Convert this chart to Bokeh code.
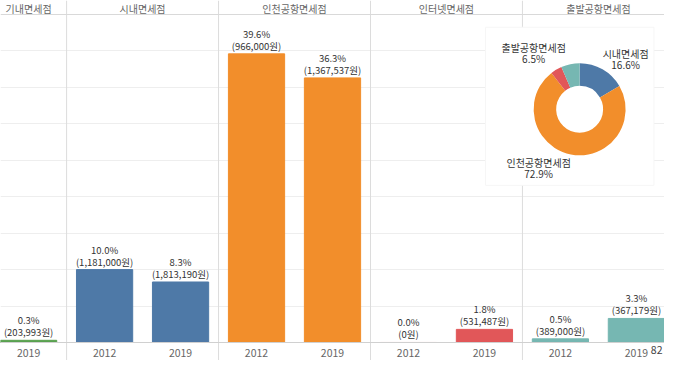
import math
from bokeh.plotting import figure
from bokeh.models import ColumnDataSource, Range1d, FixedTicker, Span
from bokeh.core.properties import value
from bokeh.embed import file_html
from bokeh.resources import INLINE

# ---------------- data ----------------
stores = ["기내면세점", "시내면세점", "인천공항면세점", "인터넷면세점", "출발공항면세점"]
store_colors = ["#59a14f", "#4e79a7", "#f28e2b", "#e15759", "#76b7b2"]
years = ["2012", "2019"]

bar_store = ["기내면세점", "시내면세점", "시내면세점", "인천공항면세점", "인천공항면세점",
             "인터넷면세점", "인터넷면세점", "출발공항면세점", "출발공항면세점"]
bar_year = ["2019", "2012", "2019", "2012", "2019", "2012", "2019", "2012", "2019"]
bar_share = [0.3, 10.0, 8.3, 39.6, 36.3, 0.0, 1.8, 0.5, 3.3]
bar_amount = [203993, 1181000, 1813190, 966000, 1367537, 0, 531487, 389000, 367179]

pie_store = ["시내면세점", "인천공항면세점", "인터넷면세점", "출발공항면세점"]
pie_share = [16.6, 72.9, 4.0, 6.5]
pie_label_shown = [True, True, False, True]

FONT = "Noto Sans CJK KR"

# ---------------- derived ----------------
bar_x = [2 * stores.index(s) + 0.5 + years.index(y) for s, y in zip(bar_store, bar_year)]
bar_color = [store_colors[stores.index(s)] for s in bar_store]
pct_text = [f"{v:.1f}%" for v in bar_share]
amt_text = [f"({a:,}원)" for a in bar_amount]

bars = ColumnDataSource(dict(x=bar_x, top=bar_share, color=bar_color,
                             pct=pct_text, amt=amt_text))

head_x, head_t = [], []
for s in stores:
    xs = [x for x, bs in zip(bar_x, bar_store) if bs == s]
    head_x.append(sum(xs) / len(xs))
    head_t.append(s)

X0, X1 = 1.13, 9.87
p = figure(width=664, height=360, output_backend="svg", toolbar_location=None,
           x_range=Range1d(X0, X1), y_range=Range1d(-2.47, 46.92),
           y_axis_location=None, min_border=0)
p.outline_line_color = None
p.background_fill_color = "white"

# grid
p.xgrid.visible = False
p.ygrid.ticker = FixedTicker(ticks=[5, 10, 15, 20, 25, 30, 35, 40])
p.ygrid.grid_line_color = "#eeeeee"
p.ygrid.grid_line_width = 1

# panel separators and header line
for k in range(1, len(stores)):
    p.add_layout(Span(location=2 * k, dimension="height", line_color="#dcdcdc",
                      line_width=1, level="underlay"))
p.add_layout(Span(location=45, dimension="width", line_color="#d9d9d9",
                  line_width=1, level="underlay"))

# x axis at baseline
p.xaxis.fixed_location = 0
p.xaxis.ticker = FixedTicker(ticks=bar_x)
p.xaxis.major_label_overrides = {x: y for x, y in zip(bar_x, bar_year)}
p.xaxis.major_tick_line_color = None
p.xaxis.minor_tick_line_color = None
p.xaxis.axis_line_color = "#d0d0d0"
p.xaxis.major_label_text_font = FONT
p.xaxis.major_label_text_font_size = "10.5px"
p.xaxis.major_label_text_color = "#666666"
p.xaxis.major_label_standoff = 1

# bars
p.vbar(x="x", top="top", bottom=0, width=0.74, color="color", source=bars)

# bar labels
p.text(x="x", y="top", text="amt", source=bars, text_align="center",
       text_baseline="bottom", y_offset=-1, text_font=value(FONT),
       text_font_size="9.5px", text_color="#333333")
p.text(x="x", y="top", text="pct", source=bars, text_align="center",
       text_baseline="bottom", y_offset=-13, text_font=value(FONT),
       text_font_size="9.5px", text_color="#333333")

# headers
p.text(x=head_x, y=[45.82] * len(head_x), text=head_t, text_align="center",
       text_baseline="middle", text_font=value(FONT), text_font_size="10px",
       text_color="#666666")

# pie overlay box
p.quad(left=[7.515], right=[9.731], bottom=[21.56], top=[43.25],
       fill_color="white", line_color="#f6f6f6")

# donut
xc, yc = 8.753, 32.0
starts, ends, pcol = [], [], []
cum = 0.0
for s, v in zip(pie_store, pie_share):
    starts.append(math.pi / 2 - 2 * math.pi * cum / 100)
    ends.append(math.pi / 2 - 2 * math.pi * (cum + v) / 100)
    pcol.append(store_colors[stores.index(s)])
    cum += v
p.annular_wedge(x=xc, y=yc, inner_radius=23.5, outer_radius=46,
                inner_radius_units="screen", outer_radius_units="screen",
                start_angle=starts, end_angle=ends, direction="clock",
                color=pcol, line_color=None)

# donut labels (screen offsets from centre)
label_dx = {"시내면세점": 46, "인천공항면세점": -41, "출발공항면세점": -46}
label_dy = {"시내면세점": -56, "인천공항면세점": 53, "출발공항면세점": -62}
lx, ly, ln, lp, ldx, ldy = [], [], [], [], [], []
for s, v, show in zip(pie_store, pie_share, pie_label_shown):
    if not show:
        continue
    lx.append(xc); ly.append(yc)
    ln.append(s); lp.append(f"{v:.1f}%")
    ldx.append(label_dx[s]); ldy.append(label_dy[s])
lsrc = ColumnDataSource(dict(x=lx, y=ly, n=ln, p=lp, dx=ldx,
                             dy=ldy, dy2=[d + 11 for d in ldy]))
p.text(x="x", y="y", text="n", x_offset="dx", y_offset="dy", source=lsrc,
       text_align="center", text_baseline="middle", text_font=value(FONT),
       text_font_size="10px", text_color="#333333")
p.text(x="x", y="y", text="p", x_offset="dx", y_offset="dy2", source=lsrc,
       text_align="center", text_baseline="middle", text_font=value(FONT),
       text_font_size="10px", text_color="#333333")

# page number mark
p.text(x=[X1], y=[0], text=["82"], x_offset=-2, y_offset=8, text_align="right",
       text_baseline="middle", text_font=value(FONT), text_font_size="10.5px",
       text_color="#444444")

open("out.html", "w").write(file_html(p, INLINE))
